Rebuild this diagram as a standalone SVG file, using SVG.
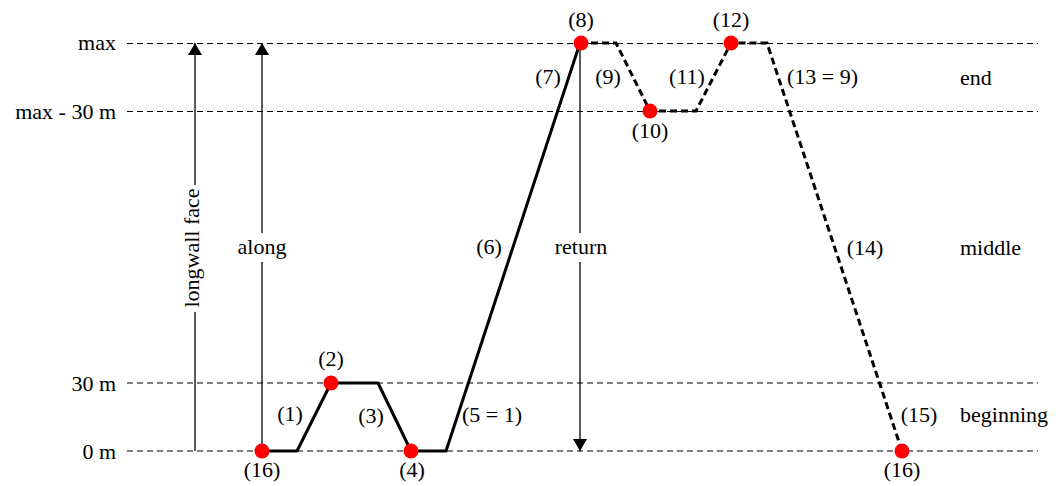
<svg xmlns="http://www.w3.org/2000/svg" width="1059" height="486" viewBox="0 0 1059 486">
<defs>
<style>
text{font-family:"Liberation Serif","Times New Roman",serif;font-size:22px;fill:#000}
.m{text-anchor:middle}
.e{text-anchor:end}
.grid{stroke:#000;stroke-width:1;stroke-dasharray:6 4;fill:none}
.arr{stroke:#000;stroke-width:1.3;fill:none}
.solid{stroke:#000;stroke-width:3;fill:none;stroke-linejoin:round}
.dash{stroke:#000;stroke-width:3;fill:none;stroke-dasharray:7 4}
.dot{fill:#ff0000}
</style>
<marker id="ah" markerWidth="12" markerHeight="14" refX="12" refY="7" orient="auto" markerUnits="userSpaceOnUse">
<path d="M0,0 L12,7 L0,14 z" fill="#000"/>
</marker>
</defs>
<rect width="1059" height="486" fill="#fff"/>
<g id="grid">
<line class="grid" x1="127" y1="43.5" x2="1038" y2="43.5"/>
<line class="grid" x1="127" y1="111.5" x2="1038" y2="111.5"/>
<line class="grid" x1="127" y1="383" x2="1038" y2="383"/>
<line class="grid" x1="127" y1="451" x2="1038" y2="451"/>
<text class="e" x="116" y="50">max</text>
<text class="e" x="116" y="119">max - 30 m</text>
<text class="e" x="116" y="391">30 m</text>
<text class="e" x="116" y="459">0 m</text>
<text x="960" y="85">end</text>
<text x="960" y="255">middle</text>
<text x="960" y="422">beginning</text>
</g>
<g id="connectors">
<line class="arr" x1="195" y1="451" x2="195" y2="312"/>
<line class="arr" x1="195" y1="185" x2="195" y2="43" marker-end="url(#ah)"/>
<line class="arr" x1="262" y1="451" x2="262" y2="262"/>
<line class="arr" x1="262" y1="233" x2="262" y2="43" marker-end="url(#ah)"/>
<line class="arr" x1="580" y1="43" x2="580" y2="233"/>
<line class="arr" x1="580" y1="262" x2="580" y2="451" marker-end="url(#ah)"/>
<path class="solid" d="M262,451 L297,451 L331,383 L378,383 L411,451 L446,451 L580,43"/>
<path class="dash" d="M580,43 L616,43 L650,111 L696,111 L731,43 L767,43 L902,451"/>
</g>
<g id="labels">
<text class="m" transform="translate(199,248) rotate(-90)">longwall face</text>
<text class="m" x="262" y="254">along</text>
<text class="m" x="581" y="254">return</text>
<text class="m" x="290" y="421">(1)</text>
<text class="m" x="371" y="423">(3)</text>
<text x="462" y="422">(5 = 1)</text>
<text class="m" x="489" y="254">(6)</text>
<text class="m" x="548" y="84">(7)</text>
<text class="m" x="608" y="84">(9)</text>
<text class="m" x="687" y="84">(11)</text>
<text x="787" y="84">(13 = 9)</text>
<text class="m" x="865" y="255">(14)</text>
<text class="m" x="919" y="422">(15)</text>
</g>
<g id="n16a"><circle class="dot" cx="262" cy="451" r="7.5"/><text class="m" x="262" y="477">(16)</text></g>
<g id="n2"><circle class="dot" cx="331" cy="383" r="7.5"/><text class="m" x="331" y="366">(2)</text></g>
<g id="n4"><circle class="dot" cx="411" cy="451" r="7.5"/><text class="m" x="412" y="477">(4)</text></g>
<g id="n8"><circle class="dot" cx="581" cy="43" r="7.5"/><text class="m" x="581" y="27">(8)</text></g>
<g id="n10"><circle class="dot" cx="650" cy="111" r="7.5"/><text class="m" x="650" y="138">(10)</text></g>
<g id="n12"><circle class="dot" cx="731" cy="43" r="7.5"/><text class="m" x="731" y="27">(12)</text></g>
<g id="n16b"><circle class="dot" cx="902" cy="451" r="7.5"/><text class="m" x="902" y="477">(16)</text></g>
</svg>
